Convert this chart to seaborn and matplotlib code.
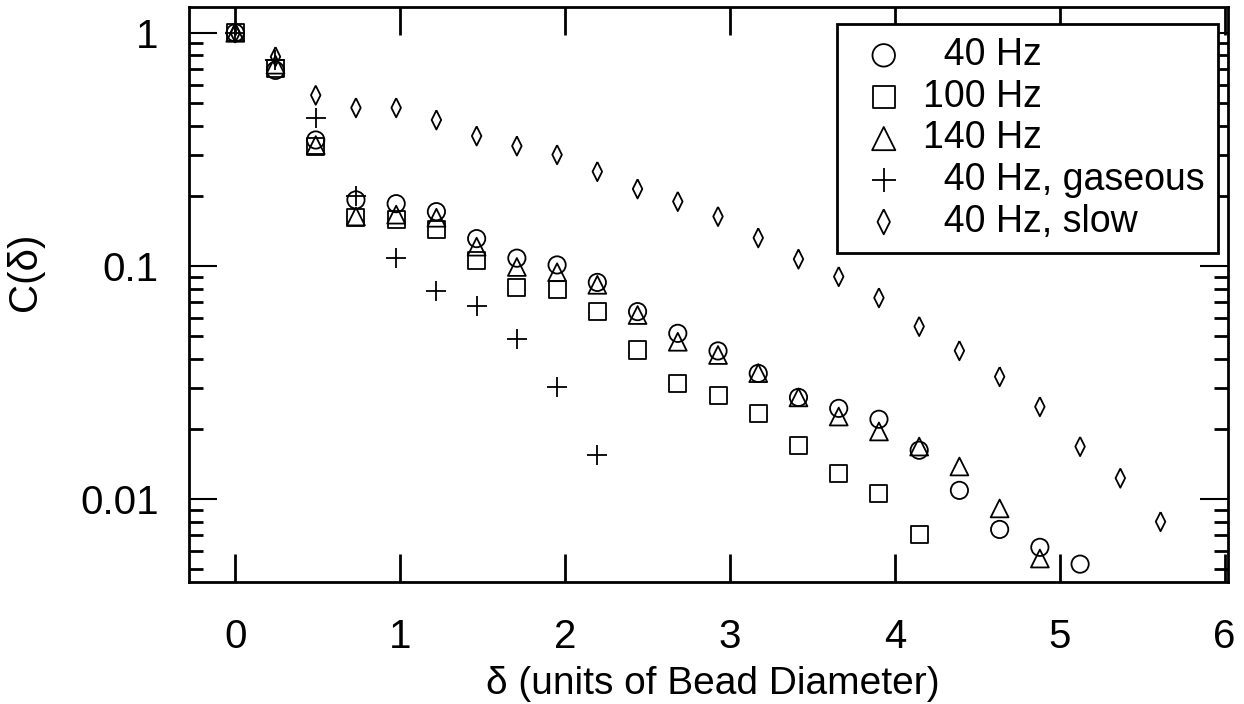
# Correlation C(delta) vs distance, log y axis, open markers
import numpy as np
import pandas as pd
import matplotlib
matplotlib.use("Agg")
import matplotlib.pyplot as plt
from matplotlib.ticker import LogLocator, NullFormatter
import seaborn as sns

# x positions (units of bead diameter)
delta = [0.0, 0.244, 0.488, 0.732, 0.976, 1.22, 1.464, 1.708, 1.952, 2.196,
         2.44, 2.684, 2.928, 3.172, 3.416, 3.66, 3.904, 4.148, 4.392, 4.636,
         4.88, 5.124, 5.368, 5.612]

c_40hz = [1.0, 0.69, 0.347, 0.192, 0.185, 0.171, 0.131, 0.108, 0.101, 0.085,
          0.0637, 0.0514, 0.0432, 0.0346, 0.0273, 0.0245, 0.0220, 0.0162,
          0.0109, 0.00741, 0.00621, 0.00526]
c_100hz = [1.0, 0.70, 0.325, 0.161, 0.158, 0.143, 0.106, 0.081, 0.079, 0.064,
           0.0436, 0.0312, 0.0277, 0.0233, 0.0169, 0.0129, 0.0106, 0.00708]
c_140hz = [1.0, 0.73, 0.33, 0.163, 0.166, 0.161, 0.121, 0.099, 0.094, 0.083,
           0.0616, 0.0473, 0.0415, 0.0347, 0.0273, 0.0226, 0.0195, 0.0168,
           0.0138, 0.00912, 0.00556]
c_gaseous = [1.0, 0.765, 0.43, 0.20, 0.108, 0.078, 0.0674, 0.0486, 0.0303, 0.0155]
c_slow = [1.0, 0.79, 0.54, 0.477, 0.477, 0.423, 0.361, 0.327, 0.30, 0.254,
          0.214, 0.189, 0.163, 0.132, 0.107, 0.090, 0.073, 0.055, 0.0433,
          0.0335, 0.0249, 0.0168, 0.0123, 0.0080]

labels = ["  40 Hz", "100 Hz", "140 Hz", "  40 Hz, gaseous", "  40 Hz, slow"]

# thin diamond like the original plot symbol
thin_diamond = [(0, 1), (0.5, 0), (0, -1), (-0.5, 0), (0, 1)]

styles = [
    (labels[0], c_40hz, "o", 155),
    (labels[1], c_100hz, "s", 150),
    (labels[2], c_140hz, "^", 165),
    (labels[3], c_gaseous, "+", 190),
    (labels[4], c_slow, thin_diamond, 190),
]

sns.set_theme(style="ticks")
plt.rcParams["font.family"] = ["Liberation Sans", "DejaVu Sans"]
plt.rcParams["text.color"] = "black"
plt.rcParams["axes.labelcolor"] = "black"
plt.rcParams["xtick.color"] = "black"
plt.rcParams["ytick.color"] = "black"

fig = plt.figure(figsize=(12.44, 7.04), dpi=100)
ax = fig.add_axes([0.152, 0.173, 0.835, 0.817])

for label, vals, marker, size in styles:
    df = pd.DataFrame({"delta": delta[:len(vals)], "C": vals})
    if marker == "+":
        sns.scatterplot(data=df, x="delta", y="C", marker="+", color="black",
                        s=size, linewidth=1.3, label=label, ax=ax)
    else:
        sns.scatterplot(data=df, x="delta", y="C", marker=marker, color="black",
                        facecolors="none", edgecolor="black", s=size,
                        linewidth=1.3, label=label, ax=ax)

ax.set_yscale("log")
ax.set_xlim(-0.28, 6.02)
ax.set_ylim(0.0044, 1.29)

ax.set_xticks([0, 1, 2, 3, 4, 5, 6])
ax.set_xticklabels(["0", "1", "2", "3", "4", "5", "6"])
ax.set_yticks([0.01, 0.1, 1])
ax.set_yticklabels(["0.01", "0.1", "1"])
ax.yaxis.set_minor_locator(LogLocator(base=10, subs=np.arange(2, 10)))
ax.yaxis.set_minor_formatter(NullFormatter())

ax.tick_params(axis="x", which="major", direction="in", length=20, width=2,
               top=True, bottom=True, pad=26, labelsize=29)
ax.tick_params(axis="x", which="minor", bottom=False, top=False)
ax.tick_params(axis="y", which="major", direction="in", length=20, width=1.5,
               left=True, right=True, pad=22, labelsize=29)
ax.tick_params(axis="y", which="minor", direction="in", length=10, width=2,
               left=True, right=True)

for sp in ax.spines.values():
    sp.set_linewidth(2)
    sp.set_color("black")

ax.set_xlabel("\u03b4 (units of Bead Diameter)", fontsize=28)
ax.set_ylabel("C(\u03b4)", fontsize=29)
ax.xaxis.set_label_coords(0.504, -0.146)
ax.yaxis.set_label_coords(-0.14, 0.54)

leg = ax.legend(loc="upper right", bbox_to_anchor=(0.9904, 0.9704),
                borderaxespad=0, fontsize=27, frameon=True, fancybox=False,
                edgecolor="black", framealpha=1, borderpad=0.35,
                handlelength=1.8, handletextpad=0.15, labelspacing=0.15,
                markerscale=1.3)
leg.get_frame().set_linewidth(2)

fig.savefig("out.png", dpi=100, facecolor="white")
